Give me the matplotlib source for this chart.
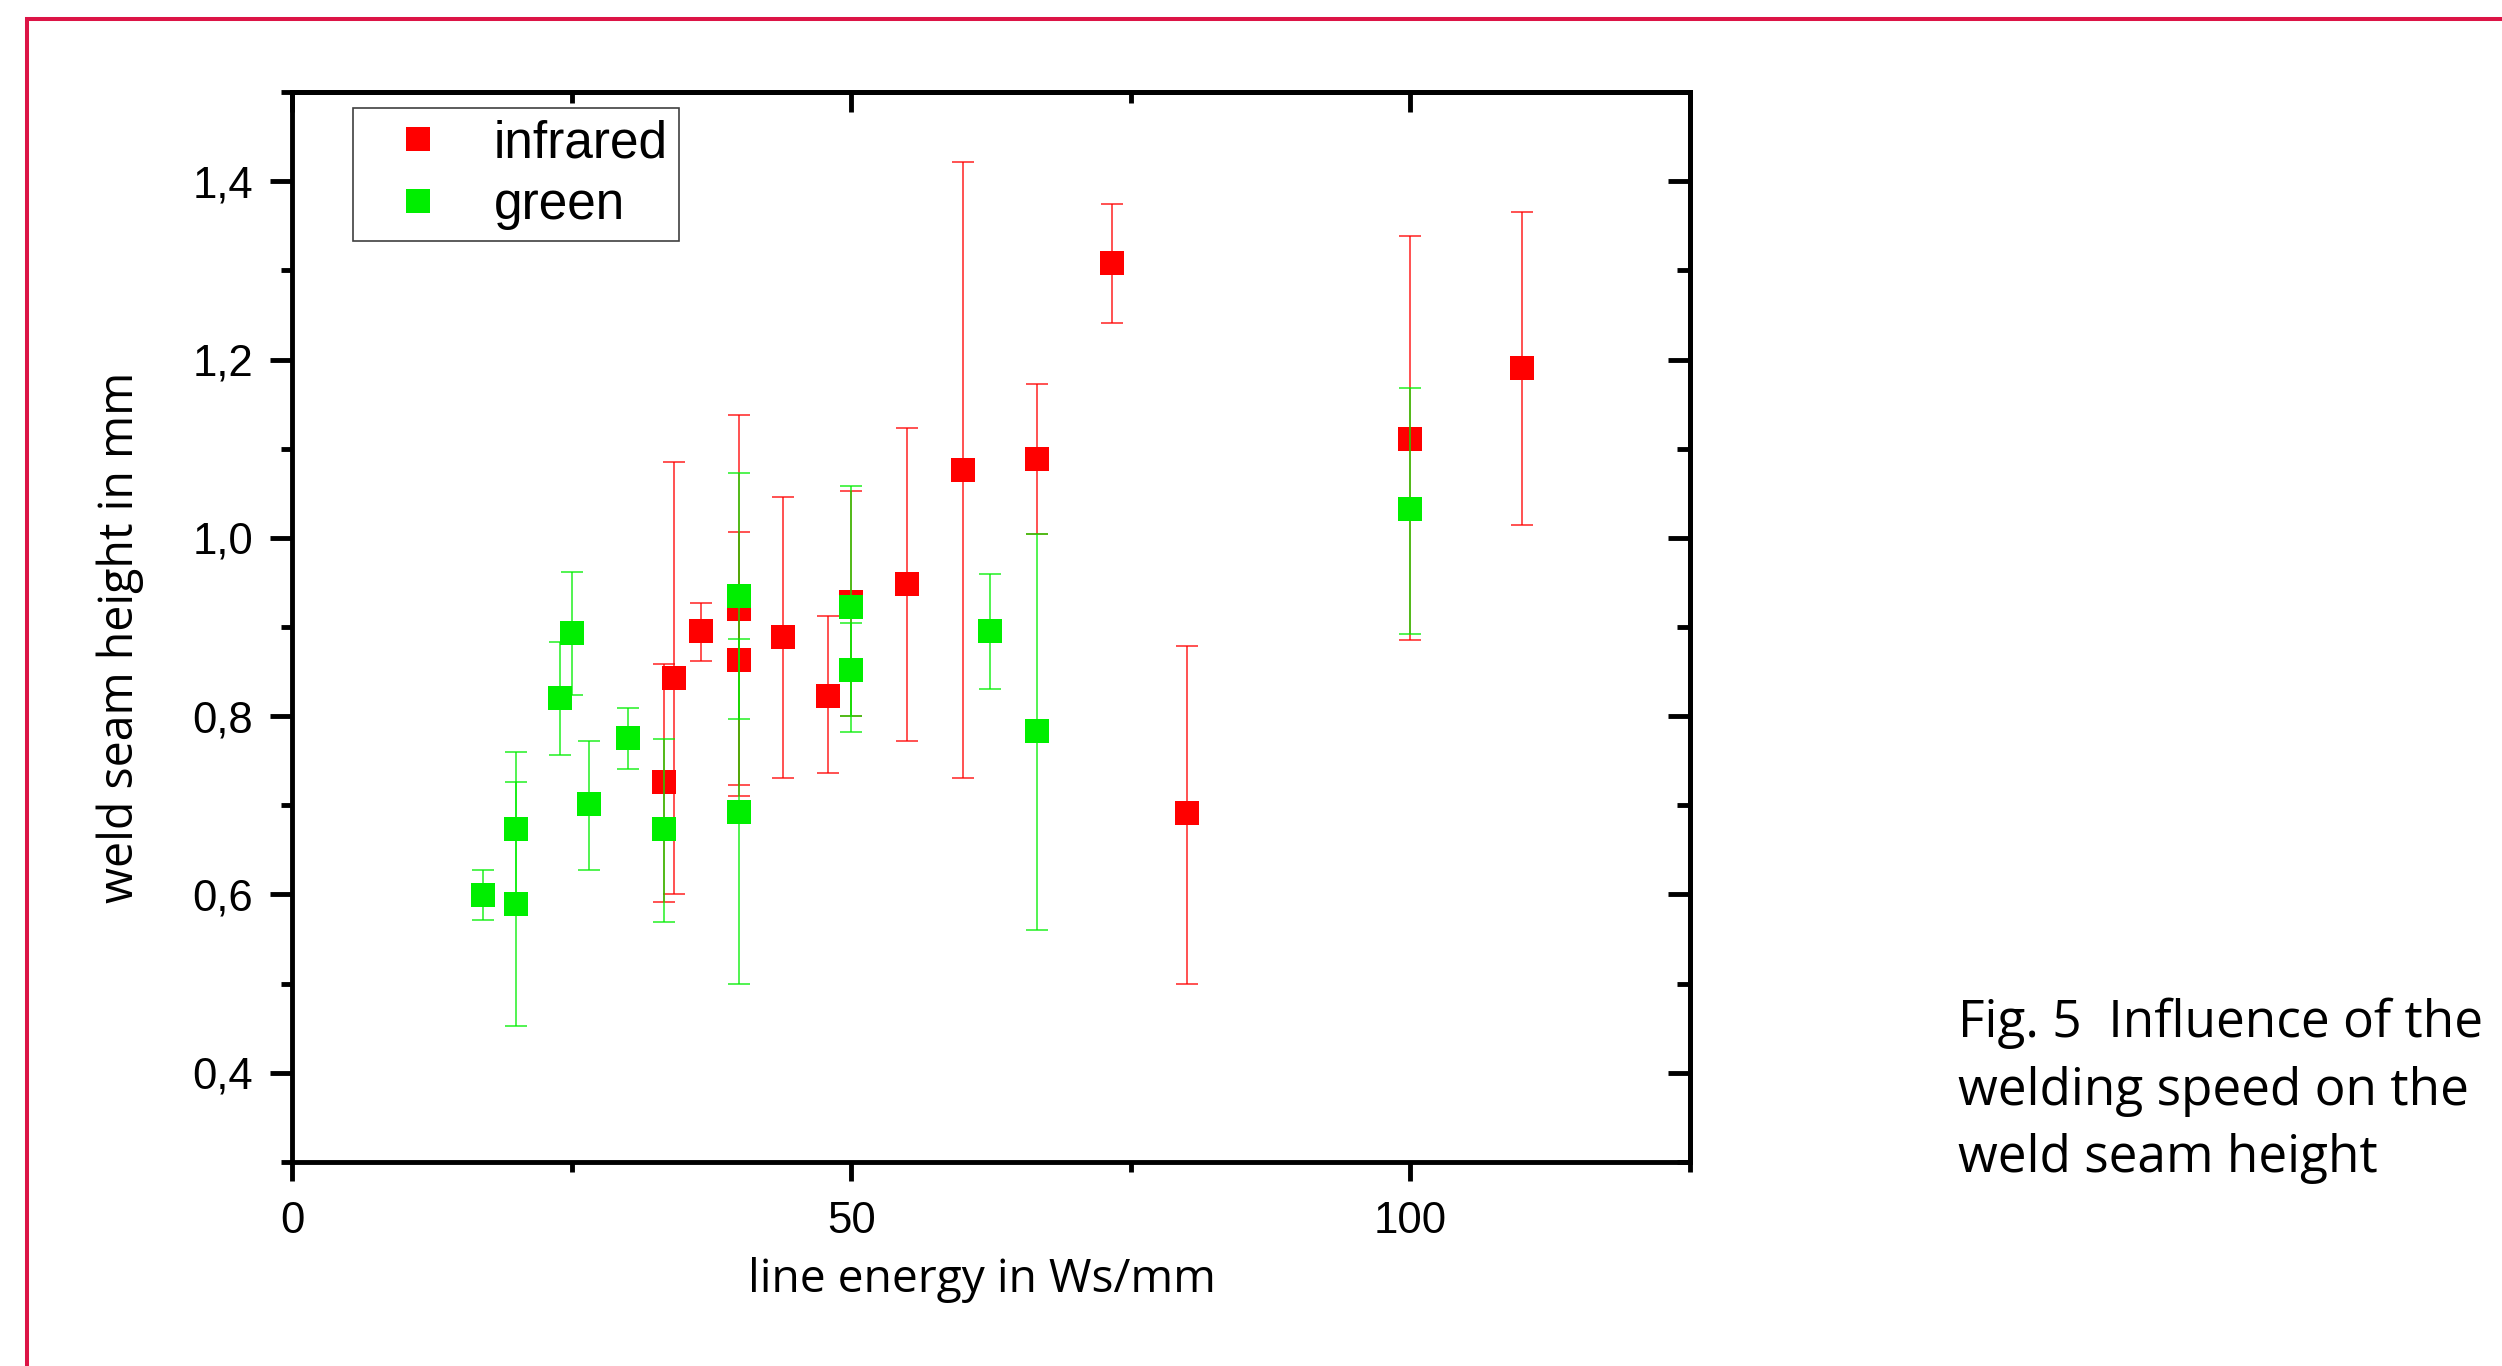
import matplotlib
matplotlib.use("Agg")
import matplotlib.pyplot as plt
from matplotlib.ticker import MultipleLocator, FuncFormatter, NullFormatter
from matplotlib.lines import Line2D
import numpy as np

# ---------------- data ----------------
ir_x  = [33.3, 34.2, 36.6, 40.0, 40.0, 43.9, 47.9, 50.0, 55.0, 60.0, 66.6, 73.3, 80.0, 100.0, 110.0]
ir_y  = [0.726, 0.843, 0.895, 0.920, 0.863, 0.889, 0.823, 0.928, 0.948, 1.076, 1.088, 1.308, 0.691, 1.111, 1.190]
ir_lo = [0.592, 0.601, 0.862, 0.711, 0.723, 0.731, 0.736, 0.800, 0.772, 0.731, 1.004, 1.241, 0.500, 0.885, 1.014]
ir_hi = [0.858, 1.085, 0.927, 1.138, 1.006, 1.046, 0.912, 1.053, 1.123, 1.422, 1.172, 1.374, 0.879, 1.339, 1.365]

gr_x  = [17.1, 20.0, 20.0, 24.0, 25.0, 26.6, 30.0, 33.3, 40.0, 40.0, 50.0, 50.0, 62.4, 66.6, 100.0]
gr_y  = [0.600, 0.674, 0.589, 0.820, 0.893, 0.701, 0.776, 0.673, 0.935, 0.693, 0.922, 0.852, 0.895, 0.783, 1.032]
gr_lo = [0.571, 0.588, 0.452, 0.757, 0.824, 0.627, 0.741, 0.569, 0.797, 0.500, 0.782, 0.800, 0.831, 0.560, 0.892]
gr_hi = [0.627, 0.760, 0.726, 0.883, 0.962, 0.772, 0.809, 0.774, 1.073, 0.886, 1.058, 0.905, 0.959, 1.004, 1.168]

series_labels = ["infrared", "green"]
x_label = "line energy in Ws/mm"
y_label = "weld seam height in mm"
caption_lines = ["Fig. 5  Influence of the", "welding speed on the", "weld seam height"]

# ---------------- style ----------------
plt.rcParams["font.family"] = ["Liberation Sans", "DejaVu Sans"]
RED = "#ff0000"
GREEN = "#00ee00"
FRAME = "#dc1446"
LW = 3.5

W, H = 2502, 1366
fig = plt.figure(figsize=(W / 100, H / 100), dpi=100)
fig.patch.set_facecolor("white")

# axes box in pixels: left 292, right 1690, top 92, bottom 1162
L, R, T, B = 292, 1690, 92, 1162
ax = fig.add_axes([L / W, 1 - B / H, (R - L) / W, (B - T) / H])
ax.set_xlim(0, 125)
ax.set_ylim(0.3, 1.5)

def yerr(y, lo, hi):
    y = np.asarray(y); return [y - np.asarray(lo), np.asarray(hi) - y]

ax.errorbar(ir_x, ir_y, yerr=yerr(ir_y, ir_lo, ir_hi), fmt="none", ecolor=RED,
            elinewidth=1.2, capsize=8, capthick=1.2, alpha=0.8, zorder=2)
ax.plot(ir_x, ir_y, "s", color=RED, ms=17, mew=0, label=series_labels[0], zorder=3)
ax.errorbar(gr_x, gr_y, yerr=yerr(gr_y, gr_lo, gr_hi), fmt="none", ecolor=GREEN,
            elinewidth=1.2, capsize=8, capthick=1.2, alpha=0.8, zorder=4)
ax.plot(gr_x, gr_y, "s", color=GREEN, ms=17, mew=0, label=series_labels[1], zorder=5)

# ticks
ax.xaxis.set_major_locator(MultipleLocator(50))
ax.xaxis.set_minor_locator(MultipleLocator(25))
ax.yaxis.set_major_locator(MultipleLocator(0.2))
ax.yaxis.set_minor_locator(MultipleLocator(0.1))
ax.yaxis.set_major_formatter(FuncFormatter(lambda v, p: f"{v:.1f}".replace(".", ",")))
ax.xaxis.set_major_formatter(FuncFormatter(lambda v, p: f"{v:.0f}"))

ax.tick_params(axis="x", which="major", direction="out", length=14, width=LW, pad=14, labelsize=31.5)
ax.tick_params(axis="x", which="minor", direction="out", length=7, width=LW)
ax.tick_params(axis="y", which="major", direction="out", length=16, width=LW, pad=12, labelsize=31.5)
ax.tick_params(axis="y", which="minor", direction="out", length=7.7, width=LW)
for s in ax.spines.values():
    s.set_linewidth(LW)

top = ax.secondary_xaxis("top")
top.xaxis.set_major_locator(MultipleLocator(50))
top.xaxis.set_minor_locator(MultipleLocator(25))
top.xaxis.set_major_formatter(NullFormatter())
top.tick_params(axis="x", which="major", direction="in", length=14.5, width=LW)
top.tick_params(axis="x", which="minor", direction="in", length=8, width=LW)
top.spines["top"].set_linewidth(LW)

right = ax.secondary_yaxis("right")
right.yaxis.set_major_locator(MultipleLocator(0.2))
right.yaxis.set_minor_locator(MultipleLocator(0.1))
right.yaxis.set_major_formatter(NullFormatter())
right.tick_params(axis="y", which="major", direction="in", length=16, width=LW)
right.tick_params(axis="y", which="minor", direction="in", length=9.5, width=LW)
right.spines["right"].set_linewidth(LW)

# axis labels
ax.set_xlabel(x_label, family=["Open Sans", "DejaVu Sans"], size=33.2)
ax.xaxis.label.set_va("baseline")
ax.xaxis.set_label_coords((982 - L) / (R - L), (B - 1292) / (B - T))

ax.set_ylabel(y_label, family=["Open Sans", "DejaVu Sans"], size=33.5)
ax.yaxis.label.set_rotation_mode("anchor")
ax.yaxis.label.set_va("baseline")
ax.yaxis.label.set_ha("center")
ax.yaxis.set_label_coords((133 - L) / (R - L), (B - 637) / (B - T))

# legend
leg = ax.legend(loc="upper left", bbox_to_anchor=((353 - L) / (R - L), (B - 108) / (B - T)),
                borderaxespad=0, prop={"family": "Liberation Sans", "size": 37},
                handlelength=2.08, handletextpad=0.44, borderpad=0.22, labelspacing=0.25,
                fancybox=False, framealpha=1, edgecolor="#404040")
leg.get_frame().set_linewidth(1.2)

# caption
for line, base in zip(caption_lines, [1037, 1105, 1172]):
    fig.text(1958 / W, 1 - base / H, line, family=["Open Sans", "DejaVu Sans"], size=37,
             ha="left", va="baseline")

# crimson frame (top and left edges)
fig.add_artist(Line2D([27 / W, 27 / W, 1.0], [0.0, 1 - 19 / H, 1 - 19 / H],
                      transform=fig.transFigure, color=FRAME, lw=2.9,
                      solid_joinstyle="miter", solid_capstyle="butt"))

fig.savefig("out.png", dpi=100, facecolor="white")
